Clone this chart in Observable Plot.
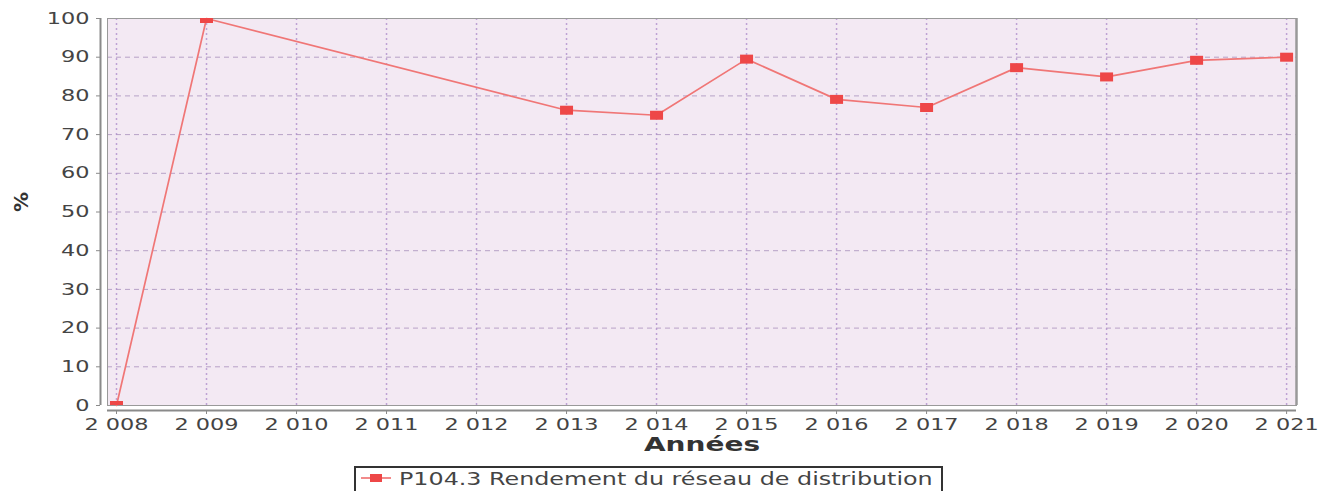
<!DOCTYPE html>
<html>
<head>
<meta charset="utf-8">
<script src="https://cdn.jsdelivr.net/npm/d3@7"></script>
<script src="https://cdn.jsdelivr.net/npm/@observablehq/plot@0.6"></script>
<style>
  body { margin: 0; background: #fff; font-family: "DejaVu Sans", sans-serif; }
  #wrap { position: relative; width: 1332px; height: 491px; overflow: hidden; }
  #legend {
    position: absolute; left: 354px; top: 466px; width: 589px; height: 40px;
    border: 2px solid #333; box-sizing: border-box; background: #fff;
    font-family: "DejaVu Sans", sans-serif; font-size: 17px; color: #444;
    white-space: nowrap;
  }
  #legend svg { position: absolute; left: 4px; top: 1px; }
  #legend span { position: absolute; left: 43px; top: 1px; display: inline-block;
    transform: scaleX(1.4); transform-origin: 0 50%; }
</style>
</head>
<body>
<div id="wrap"></div>
<script>
const years = [2008, 2009, 2013, 2014, 2015, 2016, 2017, 2018, 2019, 2020, 2021];
const values = [0, 100, 76.3, 75, 89.5, 79.1, 77, 87.3, 84.9, 89.2, 90];
const xTicks = d3.range(2008, 2022);
const yTicks = d3.range(0, 101, 10);
const xDomain = [2007.9, 2021.11];
const yDomain = [0, 100];
const seriesName = "P104.3 Rendement du réseau de distribution";
const xLabel = "Années";
const yLabel = "%";

const data = years.map((y, i) => ({year: y, value: values[i]}));
const fmtYear = d => String(d).replace(/^(\d)/, "$1 ");

const squareSym = {
  draw(ctx) {
    const w = 6.5, h = 4.5;
    ctx.moveTo(-w, -h); ctx.lineTo(w, -h); ctx.lineTo(w, h); ctx.lineTo(-w, h); ctx.closePath();
  }
};

const chart = Plot.plot({
  width: 1332,
  height: 462,
  marginLeft: 107,
  marginRight: 36,
  marginTop: 18,
  marginBottom: 57,
  style: {fontFamily: "DejaVu Sans, sans-serif", background: "#fff", overflow: "visible"},
  x: {domain: xDomain, ticks: xTicks},
  y: {domain: yDomain, ticks: yTicks},
  marks: [
    Plot.frame({fill: "#f3e9f3", stroke: "none"}),
    Plot.gridY(yTicks, {stroke: "#a890bb", strokeOpacity: 0.8, strokeDasharray: "5,4", strokeWidth: 1}),
    Plot.gridX(xTicks, {stroke: "#b090cc", strokeOpacity: 0.8, strokeDasharray: "2,3", strokeWidth: 1.5}),
    Plot.frame({stroke: "#999", strokeWidth: 1}),
    Plot.ruleX([xDomain[1]], {stroke: "#999", strokeWidth: 2.5}),
    Plot.ruleX([xDomain[0]], {dx: -7, stroke: "#8a8a8a", strokeWidth: 2}),
    Plot.ruleY([yDomain[0]], {dy: 5, stroke: "#8a8a8a", strokeWidth: 2}),
    Plot.axisY(yTicks, {tickSize: 4, dx: -7, tickPadding: 7, fontSize: 16, fill: "#444", stroke: "#8a8a8a", label: null}),
    Plot.axisX(xTicks, {tickSize: 4, dy: 5, tickPadding: 4, fontSize: 16, fill: "#444", stroke: "#8a8a8a", label: null, tickFormat: fmtYear}),
    Plot.text([xLabel], {frameAnchor: "bottom", dy: 45, fontSize: 20, fontWeight: "bold", fill: "#333"}),
    Plot.text([yLabel], {frameAnchor: "left", dx: -86, rotate: -90, fontSize: 20, fontWeight: "bold", fill: "#333"}),
    Plot.line(data, {x: "year", y: "value", stroke: "#f07676", strokeWidth: 1.7}),
    Plot.dot(data, {x: "year", y: "value", symbol: squareSym, fill: "#ee4747", stroke: "none", clip: true})
  ]
});

// stretch text horizontally like the reference rendering
const S = 1.4;
chart.querySelectorAll("text").forEach(t => {
  const tr = t.getAttribute("transform") || "";
  if (/rotate/.test(tr)) return;
  const x = +t.getAttribute("x") || 0, y = +t.getAttribute("y") || 0;
  t.setAttribute("transform", `${tr} translate(${x},${y}) scale(${S},1) translate(${-x},${-y})`);
});

const wrap = document.getElementById("wrap");
wrap.appendChild(chart);
const legend = document.createElement("div");
legend.id = "legend";
legend.innerHTML = `<svg width="32" height="20"><line x1="1" y1="9" x2="31" y2="9" stroke="#f07676" stroke-width="1.7"/><rect x="10" y="5" width="12" height="8" fill="#ee4747"/></svg><span>${seriesName}</span>`;
wrap.appendChild(legend);
</script>
</body>
</html>
